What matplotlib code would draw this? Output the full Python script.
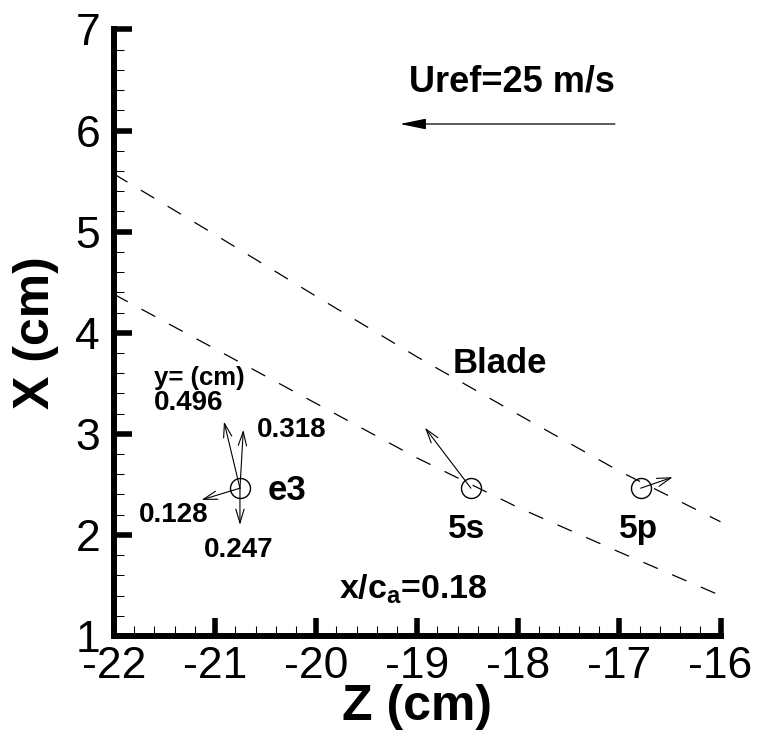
import numpy as np
import matplotlib
matplotlib.use('Agg')
import matplotlib.pyplot as plt
from matplotlib.ticker import MultipleLocator

plt.rcParams['font.family'] = ['Liberation Sans', 'DejaVu Sans']
plt.rcParams['mathtext.fontset'] = 'custom'
plt.rcParams['mathtext.rm'] = 'Liberation Sans'
plt.rcParams['mathtext.bf'] = 'Liberation Sans:bold'

# Blade outlines (dashed), Z (cm) -> X (cm)
blade_z = [-22, -21, -20, -19, -18, -17, -16]
blade_top = [5.57, 4.97, 4.36, 3.76, 3.19, 2.63, 2.13]
blade_bot = [4.38, 3.84, 3.30, 2.76, 2.27, 1.83, 1.40]

# probe locations
probe_names = ['e3', '5s', '5p']
probe_z = [-20.754, -18.469, -16.790]
probe_x = [2.462, 2.462, 2.462]

# velocity vectors (m/s) at e3 for several heights y (cm)
e3_y = ['0.128', '0.247', '0.318', '0.496']
e3_u = [-4.47, 0.00, 0.39, -1.86]
e3_v = [-1.36, -4.27, 6.79, 7.75]

# vectors at 5s and 5p
vec_5s = (-5.35, 7.04)
vec_5p = (3.73, 1.28)

# reference velocity
uref = 25.0
uref_len = 2.126  # cm drawn for uref
k = uref_len / uref

fig = plt.figure(figsize=(7.57, 7.3), dpi=100)
ax = fig.add_axes([0.1506, 0.1288, 0.8012, 0.8308])

for yb in (blade_top, blade_bot):
    ln, = ax.plot(blade_z, yb, color='black', lw=0.9, clip_on=True)
    ln.set_dashes((12.5, 12.5))

ax.plot(probe_z, probe_x, 'o', ms=14.4, mfc='none', mec='black', mew=1.0)

def vec(z0, x0, u, v, style='->', hl=1.0, hw=0.3, lw=0.8):
    ax.annotate('', xy=(z0 + u * k, x0 + v * k), xytext=(z0, x0),
                arrowprops=dict(arrowstyle=f'{style},head_length={hl},head_width={hw}',
                                color='black', lw=lw, shrinkA=0, shrinkB=0))

for u, v in zip(e3_u, e3_v):
    vec(probe_z[0], probe_x[0], u, v)
vec(probe_z[1], probe_x[1], *vec_5s)
vec(probe_z[2], probe_x[2], *vec_5p)

# reference arrow
vec(-17.045, 6.065, -uref, 0, style='-|>', hl=1.6, hw=0.33, lw=0.9)

bold = dict(fontweight='bold', color='black')
ax.text(-18.068, 6.382, 'Uref=25 m/s', ha='center', va='baseline', fontsize=26, **bold)
ax.text(-18.182, 3.602, 'Blade', ha='center', va='baseline', fontsize=25, **bold)
ax.text(-20.477, 2.346, 'e3', ha='left', va='baseline', fontsize=25, **bold)
ax.text(-18.508, 1.970, '5s', ha='center', va='baseline', fontsize=24, **bold)
ax.text(-16.812, 1.970, '5p', ha='center', va='baseline', fontsize=24, **bold)
ax.text(-19.043, 1.377, r'x/c$_\mathbf{a}$=0.18', ha='center', va='baseline', fontsize=24.5, **bold)

ax.text(-21.604, 3.484, 'y= (cm)', ha='left', va='baseline', fontsize=18.5, **bold)
lab_pos = {'0.496': (-21.604, 3.237), '0.318': (-20.586, 2.969),
           '0.128': (-21.753, 2.129), '0.247': (-21.110, 1.782)}
for s, (zz, xx) in lab_pos.items():
    ax.text(zz, xx, s, ha='left', va='baseline', fontsize=20, **bold)

ax.set_xlim(-22, -16)
ax.set_ylim(1, 7)
ax.xaxis.set_major_locator(MultipleLocator(1))
ax.yaxis.set_major_locator(MultipleLocator(1))
ax.xaxis.set_minor_locator(MultipleLocator(0.2))
ax.yaxis.set_minor_locator(MultipleLocator(0.2))

for side in ('top', 'right'):
    ax.spines[side].set_visible(False)
for side in ('left', 'bottom'):
    ax.spines[side].set_linewidth(4.3)
    ax.spines[side].set_capstyle('projecting')

ax.tick_params(which='major', direction='in', length=12.7, width=4, labelsize=32)
ax.tick_params(which='minor', direction='in', length=7, width=0.75)
ax.tick_params(axis='y', which='major', pad=10)
ax.tick_params(axis='x', which='major', pad=7)
ax.set_xticklabels([f'{int(t)}' for t in ax.get_xticks()])

ax.set_xlabel('Z (cm)', fontsize=36, fontweight='bold', labelpad=-2)
ax.set_ylabel('X (cm)', fontsize=36, fontweight='bold', labelpad=12)

fig.savefig('out.png', dpi=100)
